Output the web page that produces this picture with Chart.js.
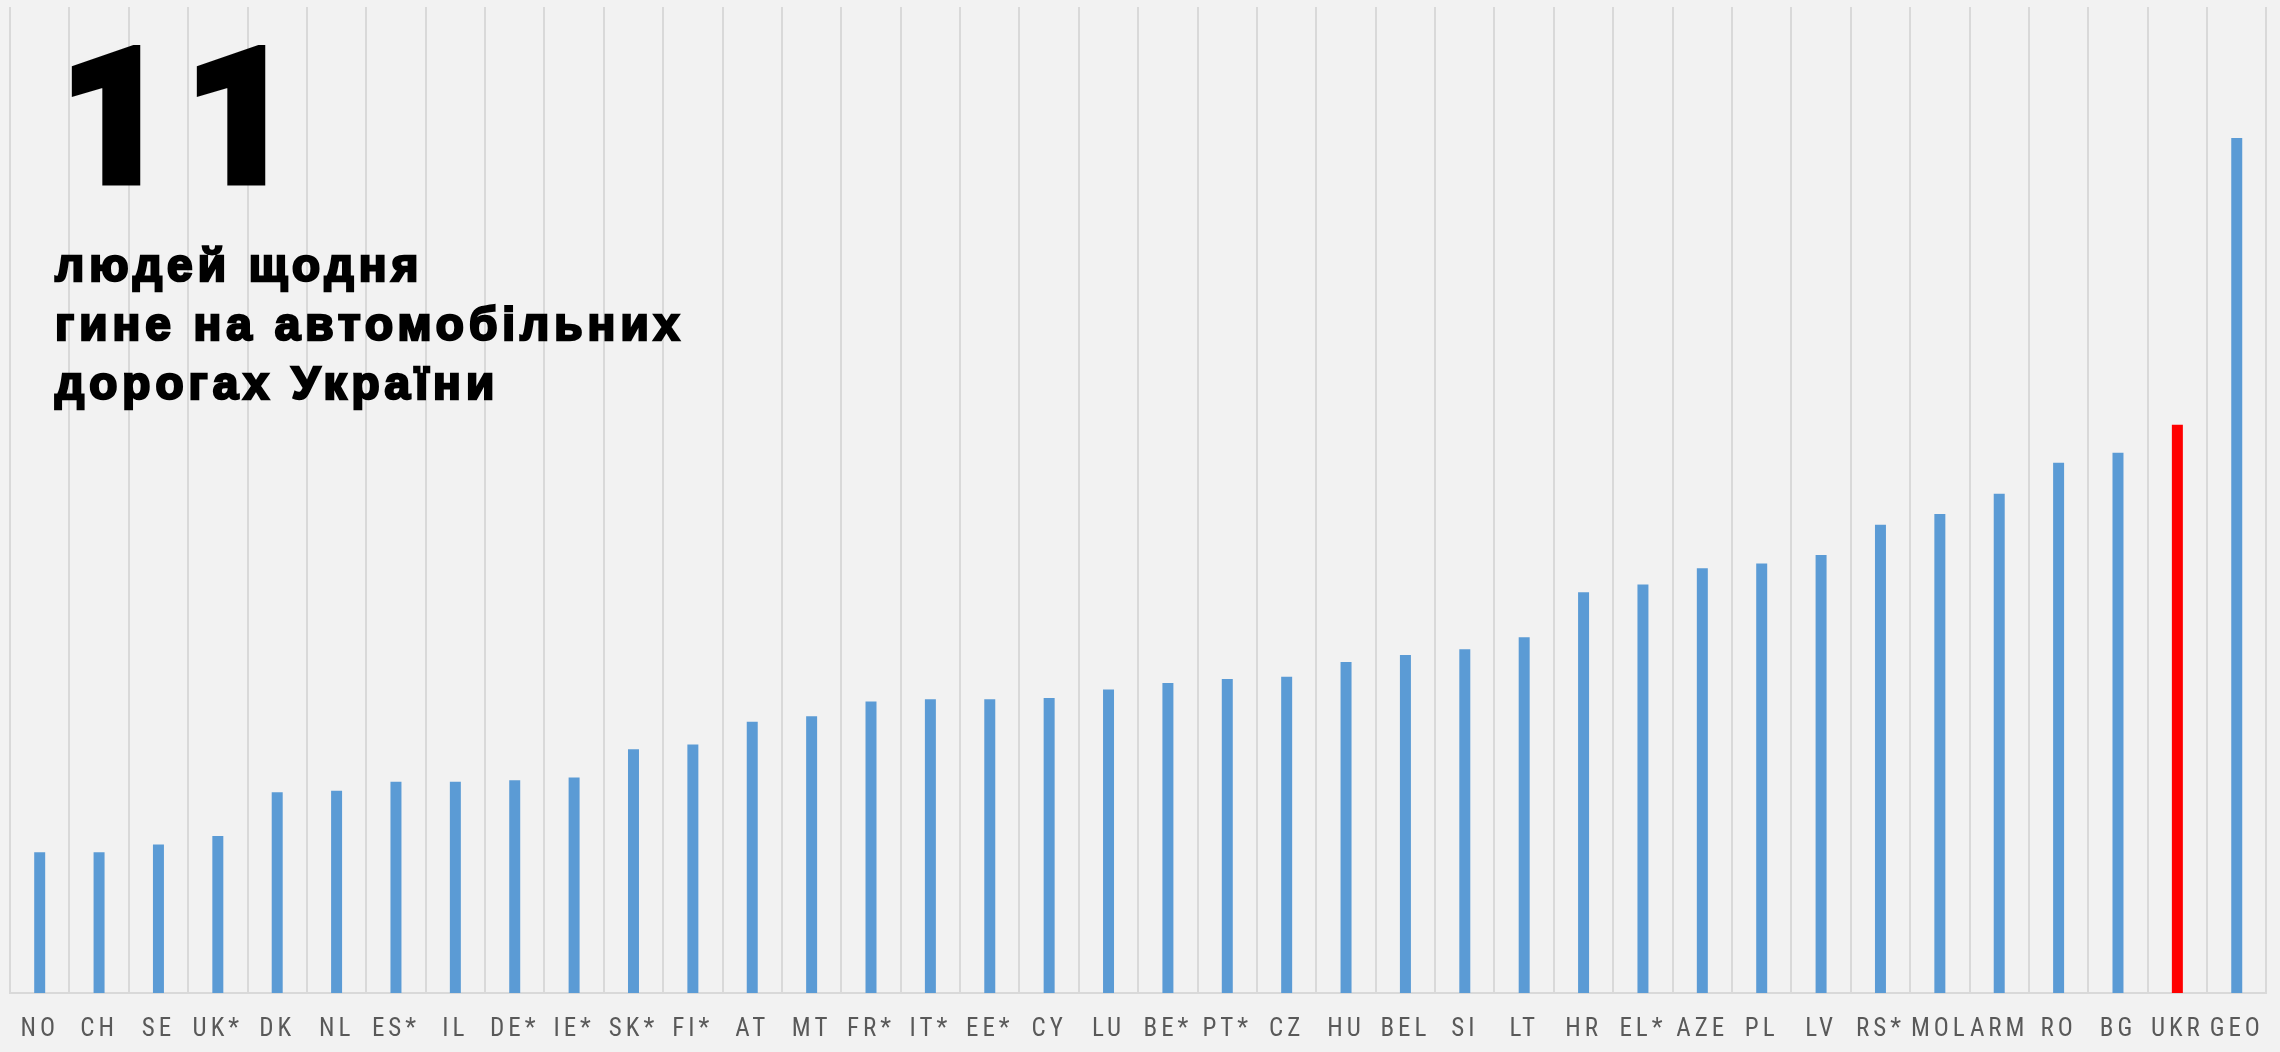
<!DOCTYPE html>
<html>
<head>
<meta charset="utf-8">
<script src="https://cdn.jsdelivr.net/npm/chart.js@4.4.1/dist/chart.umd.min.js"></script>
<style>
  html, body { margin: 0; padding: 0; background: #f2f2f2; }
  #wrap { position: relative; width: 2280px; height: 1052px; background: #f2f2f2; }
  canvas { position: absolute; left: 0; top: 0; }
  .big {
    position: absolute; left: 60px; top: 24px;
    font-family: Roboto, 'Liberation Sans', sans-serif; font-weight: 900;
    font-size: 188px; line-height: 188px; color: #000;
    -webkit-text-stroke: 7px #000; letter-spacing: 16px;
  }
  .sub {
    position: absolute; left: 55px; top: 236px;
    font-family: 'Liberation Sans', Arial, sans-serif; font-weight: bold;
    font-size: 46px; line-height: 59px; color: #000;
    -webkit-text-stroke: 2.5px #000; letter-spacing: 5px;
  }
</style>
</head>
<body>
<div id="wrap">
  <canvas id="c" width="2280" height="1052"></canvas>
  <div class="big">11</div>
  <div class="sub">людей щодня<br>гине на автомобільних<br>дорогах України</div>
</div>
<script>
const categories = ["NO","CH","SE","UK*","DK","NL","ES*","IL","DE*","IE*","SK*","FI*","AT","MT","FR*","IT*","EE*","CY","LU","BE*","PT*","CZ","HU","BEL","SI","LT","HR","EL*","AZE","PL","LV","RS*","MOL","ARM","RO","BG","UKR","GEO"];
const values = [20.0,20.0,21.1,22.3,28.5,28.7,30.0,30.0,30.2,30.6,34.6,35.3,38.5,39.3,41.4,41.7,41.7,41.9,43.1,44.0,44.6,44.9,47.0,48.0,48.8,50.5,56.9,58.0,60.3,61.0,62.2,66.5,68.0,70.9,75.3,76.7,80.7,121.4];
const highlighted = "UKR";
const yMax = 140;

const spacingPlugin = {
  id: 'spacing',
  beforeDraw(chart) { chart.ctx.letterSpacing = '4px'; },
  afterDraw(chart) { chart.ctx.letterSpacing = '0px'; }
};

new Chart(document.getElementById('c'), {
  type: 'bar',
  data: {
    labels: categories,
    datasets: [{
      data: values,
      backgroundColor: ctx => categories[ctx.dataIndex] === highlighted ? '#ff0000' : '#5b9bd5',
      borderWidth: 0,
      categoryPercentage: 1,
      barPercentage: 0.185
    }]
  },
  options: {
    responsive: false,
    animation: false,
    layout: { padding: { left: 10, right: 11, top: 7, bottom: 0 } },
    plugins: { legend: { display: false }, tooltip: { enabled: false } },
    scales: {
      x: {
        offset: true,
        grid: { display: true, color: '#d9d9d9', lineWidth: 2, drawTicks: false, offset: true },
        border: { display: true, color: '#d9d9d9', width: 2 },
        ticks: {
          autoSkip: false, maxRotation: 0, minRotation: 0,
          color: '#595959', padding: 22,
          font: { family: '"Roboto Condensed", "DejaVu Sans Condensed", sans-serif', size: 25 }
        },
        afterFit(scale) { scale.height = 59; }
      },
      y: {
        display: false,
        min: 0, max: yMax
      }
    }
  },
  plugins: [spacingPlugin]
});
</script>
</body>
</html>
